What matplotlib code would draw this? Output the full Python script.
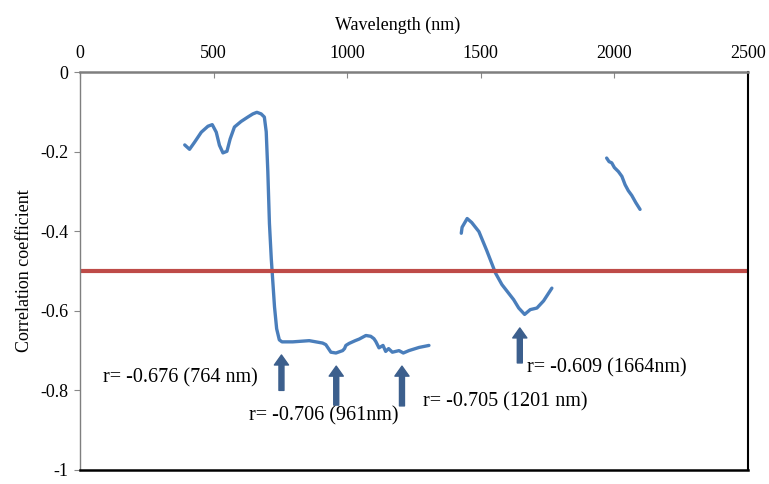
import matplotlib
matplotlib.use('Agg')
import matplotlib.pyplot as plt
import numpy as np

plt.rcParams['font.family'] = ['Liberation Serif', 'DejaVu Serif']

# correlation curve, three wavelength windows (nm, r)
wl_vis = [392, 410, 429, 454, 479, 495, 510, 522, 535, 550, 562, 578, 603, 628, 647,
          662, 678, 690, 697, 703, 709, 716, 722, 728, 736, 746, 756, 796, 858, 908,
          920, 930, 939, 958, 983, 990, 995, 1007, 1030, 1045, 1070, 1088, 1100, 1107,
          1119, 1134, 1144, 1155, 1169, 1194, 1210, 1231, 1269, 1306]
r_vis = [-0.183, -0.194, -0.176, -0.151, -0.136, -0.132, -0.151, -0.184, -0.203, -0.199,
         -0.168, -0.138, -0.124, -0.113, -0.105, -0.101, -0.105, -0.113, -0.150, -0.250,
         -0.380, -0.470, -0.530, -0.590, -0.645, -0.673, -0.678, -0.678, -0.675, -0.681,
         -0.685, -0.695, -0.704, -0.706, -0.700, -0.695, -0.687, -0.682, -0.675, -0.671,
         -0.662, -0.664, -0.670, -0.677, -0.693, -0.687, -0.702, -0.695, -0.704, -0.700,
         -0.706, -0.700, -0.692, -0.687]

wl_swir1 = [1427, 1430, 1449, 1466, 1493, 1522, 1555, 1579, 1623, 1642, 1664, 1685,
            1710, 1735, 1766]
r_swir1 = [-0.405, -0.390, -0.368, -0.378, -0.401, -0.448, -0.505, -0.534, -0.572,
           -0.593, -0.609, -0.597, -0.593, -0.575, -0.543]

wl_swir2 = [1971, 1980, 1990, 2000, 2015, 2028, 2040, 2052, 2065, 2080, 2096]
r_swir2 = [-0.216, -0.225, -0.228, -0.240, -0.250, -0.262, -0.283, -0.298, -0.310,
           -0.328, -0.345]

threshold = -0.5

# arrows: x, tip, tail
arrow_x = [754, 959, 1205, 1646]
arrow_tip = [-0.711, -0.739, -0.739, -0.643]
arrow_tail = [-0.800, -0.837, -0.839, -0.731]

labels = ['r= -0.676 (764 nm)', 'r= -0.706 (961nm)', 'r= -0.705 (1201 nm)', 'r= -0.609 (1664nm)']
label_x = [86, 634, 1284, 1672]
label_y = [-0.769, -0.864, -0.829, -0.744]

blue = '#4A7EBB'
red = '#BE4B48'
navy = '#3C5F8D'

fig = plt.figure(figsize=(7.69, 4.84), dpi=100)
ax = fig.add_axes([0.104, 0.029, 0.8687, 0.822])

for wl, r in [(wl_vis, r_vis), (wl_swir1, r_swir1), (wl_swir2, r_swir2)]:
    ax.plot(wl, r, color=blue, lw=2.4, solid_capstyle='round', solid_joinstyle='round')

ax.axhline(threshold, color=red, lw=3)

for x, tip, tail in zip(arrow_x, arrow_tip, arrow_tail):
    ax.annotate('', xy=(x, tip), xytext=(x, tail),
                arrowprops=dict(arrowstyle='simple,head_length=0.6,head_width=0.85,tail_width=0.3',
                                mutation_scale=12, color=navy, shrinkA=0, shrinkB=0))

for t, x, y in zip(labels, label_x, label_y):
    ax.text(x, y, t, fontsize=14.5, ha='left', va='center')

ax.set_xlim(0, 2500)
ax.set_ylim(-1, 0)
ax.set_xticks(np.arange(0, 2501, 500))
ax.set_yticks(np.arange(-1, 0.01, 0.2))
ax.set_yticklabels(['-1', '-0.8', '-0.6', '-0.4', '-0.2', '0'])
ax.xaxis.tick_top()
ax.xaxis.set_label_position('top')
ax.tick_params(axis='x', direction='in', length=4, labelsize=13, color='#888888', pad=7)
ax.tick_params(axis='y', direction='out', length=4, labelsize=13, color='#888888', pad=4.5)
ax.set_xlabel('Wavelength (nm)', fontsize=13)
ax.set_ylabel('Correlation coefficient', fontsize=13)
ax.xaxis.set_label_coords(0.476, 1.105)
ax.yaxis.set_label_coords(-0.070, 0.5)

ax.spines['top'].set_color('#7F7F7F')
ax.spines['top'].set_linewidth(1.8)
ax.spines['left'].set_color('#7F7F7F')
ax.spines['left'].set_linewidth(1.0)
ax.spines['right'].set_color('black')
ax.spines['right'].set_linewidth(1.5)
ax.spines['bottom'].set_color('black')
ax.spines['bottom'].set_linewidth(1.8)

fig.savefig('out.png', dpi=100)
